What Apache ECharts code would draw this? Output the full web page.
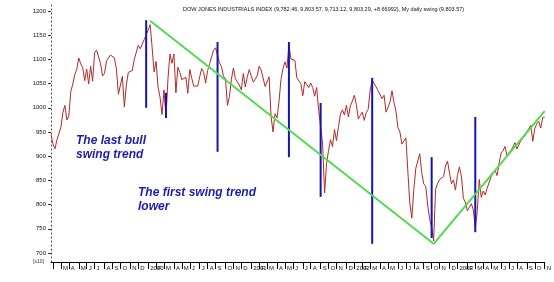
<!DOCTYPE html>
<html><head><meta charset="utf-8">
<script src="https://cdn.jsdelivr.net/npm/echarts@6/dist/echarts.min.js"></script>
<style>html,body{margin:0;padding:0;background:#fff}#c{width:554px;height:282px}</style>
</head><body><div id="c"></div>
<script>
// Weekly closes (index points / 10), first week ending 1999-01-29
const firstWeek = '1999-01-29';
const v1999 = [945, 925, 915, 934, 931, 960, 990, 1005, 975, 983, 1034, 1049, 1069, 1079, 1103, 1091, 1083, 1056, 1080, 1049, 1086, 1055, 1114, 1119, 1121, 1091, 1066, 1071, 1097, 1096, 1109, 1108, 1103, 1080, 1028, 1027, 1065, 1002, 1047, 1073, 1070, 1077, 1100, 1099, 1129, 1122, 1126, 1141, 1150];
const v2000 = [1152, 1172, 1125, 1074, 1096, 1043, 1022, 986, 1037, 980, 1060, 1111, 1092, 1111, 1031, 1084, 1073, 1058, 1061, 1063, 1030, 1079, 1061, 1045, 1041, 1045, 1064, 1081, 1073, 1051, 1077, 1091, 1105, 1119, 1124, 1126, 1093, 1085, 1065, 1060, 1005, 1023, 1059, 1082, 1060, 1063, 1047, 1037, 1071, 1043, 1064, 1079];
const v2001 = [1066, 1053, 1059, 1066, 1086, 1078, 1080, 1044, 1047, 1064, 982, 950, 988, 979, 1013, 1058, 1081, 1095, 1082, 1130, 1101, 1099, 1098, 1062, 1060, 1050, 1025, 1054, 1058, 1042, 1051, 1042, 1024, 1042, 995, 961, 925, 824, 885, 912, 934, 920, 955, 932, 961, 987, 996, 985, 1005, 981, 1004, 1014];
const v2002 = [1026, 1007, 977, 984, 991, 974, 990, 997, 1037, 1057, 1061, 1043, 1040, 1027, 1019, 1026, 991, 1001, 1012, 1035, 1011, 993, 959, 950, 925, 924, 938, 868, 802, 772, 831, 875, 878, 905, 866, 843, 838, 799, 770, 753, 725, 832, 844, 852, 854, 858, 880, 890, 865, 843, 851, 830];
const v2003 = [860, 878, 859, 813, 805, 787, 791, 802, 789, 752, 786, 852, 815, 828, 820, 834, 831, 858, 860, 871, 860, 885, 906, 912, 920, 901, 907, 912, 919, 928, 915, 919, 932, 935, 942, 950, 947, 964, 931, 957, 967, 972, 958, 980, 981];

const yTicks = [700, 750, 800, 850, 900, 950, 1000, 1050, 1100, 1150, 1200];
const monthInitials = ['J','F','M','A','M','J','J','A','S','O','N','D'];

// Swing markers (blue verticals)
const swingDates = ['1999-12-31','2000-03-10','2000-09-08','2001-05-18','2001-09-07','2002-03-08','2002-10-04','2003-03-07'];
const swingLow  = [1000, 979, 909, 898, 816, 719, 731, 743];
const swingHigh = [1181, 1031, 1136, 1136, 1010, 1062, 898, 981];

// Trend lines (green)
const trendDates  = ['2000-01-14','2002-10-11','2003-11-07'];
const trendValues = [1180, 719, 993];

const titleText = 'DOW JONES INDUSTRIALS INDEX (9,782.46, 9,803.57, 9,713.12, 9,803.29, +8.66992), My daily swing (9,803.57)';

const weekly = [].concat(v1999, v2000, v2001, v2002, v2003);
const cats = [];
{
  let t = Date.UTC(1999, 0, 29);
  for (let i = 0; i < weekly.length; i++) {
    cats.push(new Date(t).toISOString().slice(0, 10));
    t += 7 * 864e5;
  }
}
const monthOf = c => parseInt(c.slice(5, 7), 10) - 1;
const isMonthStart = i => i === 0 || monthOf(cats[i]) !== monthOf(cats[i - 1]);
const trendSeries = cats.map(c => { const k = trendDates.indexOf(c); return k >= 0 ? trendValues[k] : null; });

const chart = echarts.init(document.getElementById('c'), null, {renderer: 'canvas'});
chart.setOption({
  animation: false,
  backgroundColor: '#fff',
  title: {
    text: titleText, left: 178, top: 1,
    textStyle: {fontSize: 5.5, fontWeight: 'normal', color: '#111', fontFamily: 'Liberation Sans'}
  },
  grid: {left: 51, right: 8, top: 5, bottom: 20},
  xAxis: {
    type: 'category', data: cats, boundaryGap: false,
    axisLine: {lineStyle: {color: '#000', width: 1}},
    axisTick: {interval: (i) => isMonthStart(i), length: 7, lineStyle: {color: '#000'}},
    axisLabel: {
      interval: (i) => i === 0 || (isMonthStart(i) && i >= 3),
      formatter: (val, i) => {
        const m = monthOf(val);
        if (i === 0 || m === 0) return val.slice(0, 4);
        return monthInitials[m];
      },
      fontSize: 6, color: '#111', align: 'left', padding: [0, 0, 0, 2], margin: 3,
      fontFamily: 'Liberation Sans'
    },
    splitLine: {show: false}
  },
  yAxis: {
    type: 'value', min: 681.4, max: 1212.4,
    axisLine: {show: true, lineStyle: {type: [1, 3], color: '#444'}},
    axisTick: {show: true, customValues: yTicks, length: 3, lineStyle: {color: '#333'}},
    axisLabel: {customValues: yTicks, fontSize: 6, margin: 5, color: '#111', fontFamily: 'Liberation Sans',
                formatter: (v) => String(Math.round(v))},
    splitLine: {show: false}
  },
  series: [
    {
      type: 'line', data: weekly, symbol: 'none', z: 2,
      lineStyle: {color: '#b22a2a', width: 1}
    },
    {
      type: 'custom', z: 3,
      data: swingDates.map((d, i) => [d, swingLow[i], swingHigh[i]]),
      encode: {x: 0, y: [1, 2]},
      renderItem: (params, api) => {
        const x = api.value(0);
        const p1 = api.coord([x, api.value(1)]);
        const p2 = api.coord([x, api.value(2)]);
        return {type: 'line', shape: {x1: p1[0], y1: p1[1], x2: p2[0], y2: p2[1]},
                style: {stroke: '#1414b4', lineWidth: 2}};
      }
    },
    {
      type: 'line', data: trendSeries, connectNulls: true, symbol: 'none', z: 4,
      lineStyle: {color: '#4fdc4f', width: 2}
    }
  ],
  graphic: [
    {type: 'text', left: 76, top: 134, z: 10,
     style: {text: 'The last bull\nswing trend', font: 'italic bold 12px "Liberation Sans"', fill: '#1c1cb0', lineHeight: 14}},
    {type: 'text', left: 138, top: 186, z: 10,
     style: {text: 'The first swing trend\nlower', font: 'italic bold 12px "Liberation Sans"', fill: '#1c1cb0', lineHeight: 14}},
    {type: 'text', left: 33, top: 259, z: 10,
     style: {text: '[x10]', font: '5px "Liberation Sans"', fill: '#333'}}
  ]
});
</script></body></html>
